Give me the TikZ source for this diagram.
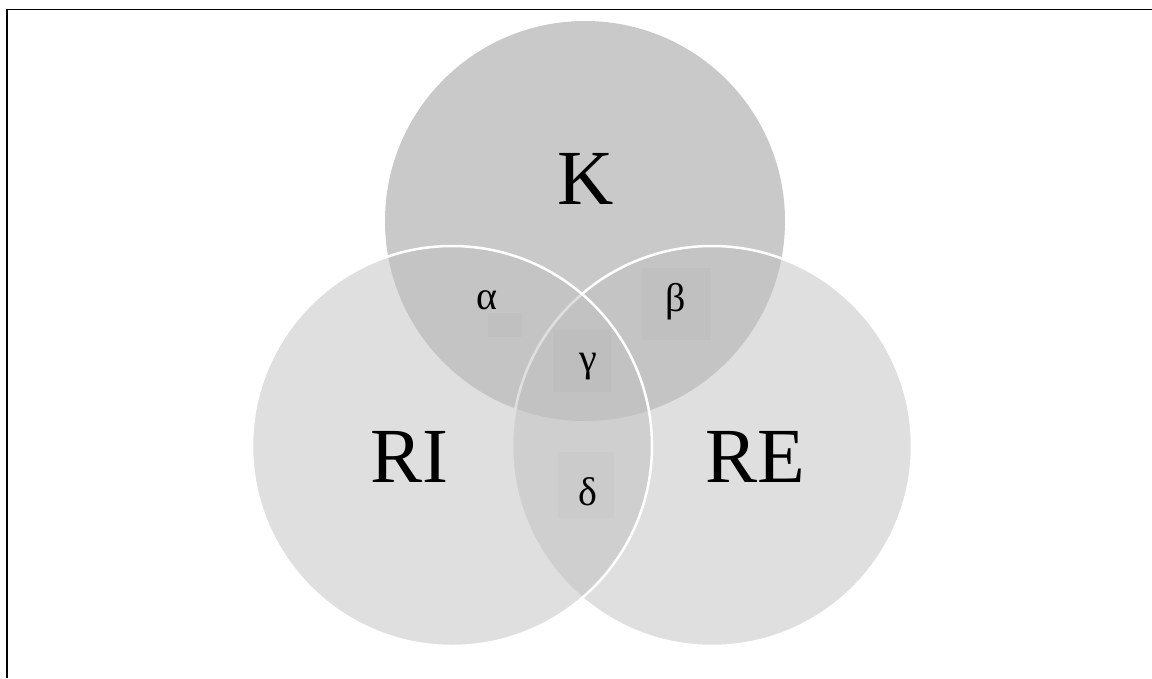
\documentclass[tikz,border=0pt]{standalone}
\usepackage{fontspec}
\setmainfont{Liberation Serif}
\definecolor{kgray}{RGB}{201,201,201}
\definecolor{rgray}{RGB}{193,193,193}
\begin{document}
\begin{tikzpicture}[x=1pt,y=-1pt,
  setfill/.style={fill=rgray,fill opacity=0.5,draw=white,line width=2.5pt},
  big/.style={font=\fontsize{78}{80}\selectfont,inner sep=0pt,anchor=base},
  greek/.style={font=\fontsize{40}{42}\selectfont,inner sep=0pt},
  ghost/.style={fill=black,fill opacity=0.014,draw=none}]
\useasboundingbox (0,0) rectangle (1152,678);
\fill[white] (0,0) rectangle (1152,678);
% frame
\coordinate (f1) at (1152,9.5);
\coordinate (f2) at (7,9.5);
\coordinate (f3) at (7,678);
\draw[line width=1.6pt,black] (f1) -- (f2) -- (f3);
% circles
\fill[kgray] (585,221) circle[radius=200];
\path[setfill] (712,446) circle[radius=200];
\path[setfill] (452,446) circle[radius=200];
% faint label boxes
\path[ghost] (488,313) rectangle (522,337);
\path[ghost] (642,268) rectangle (711,340);
\path[ghost] (553,330) rectangle (611,392);
\path[ghost] (558,452) rectangle (614,518);
% labels
\node[big] (K) at (586,204) {K};
\node[big] (RI) at (409,482) {RI};
\node[big] (RE) at (755,482) {RE};
\node[greek] (a) at (487,300) {α};
\node[greek] (b) at (676,302) {β};
\node[greek] (g) at (588,367) {γ};
\node[greek] (d) at (588,492) {δ};
\end{tikzpicture}
\end{document}
